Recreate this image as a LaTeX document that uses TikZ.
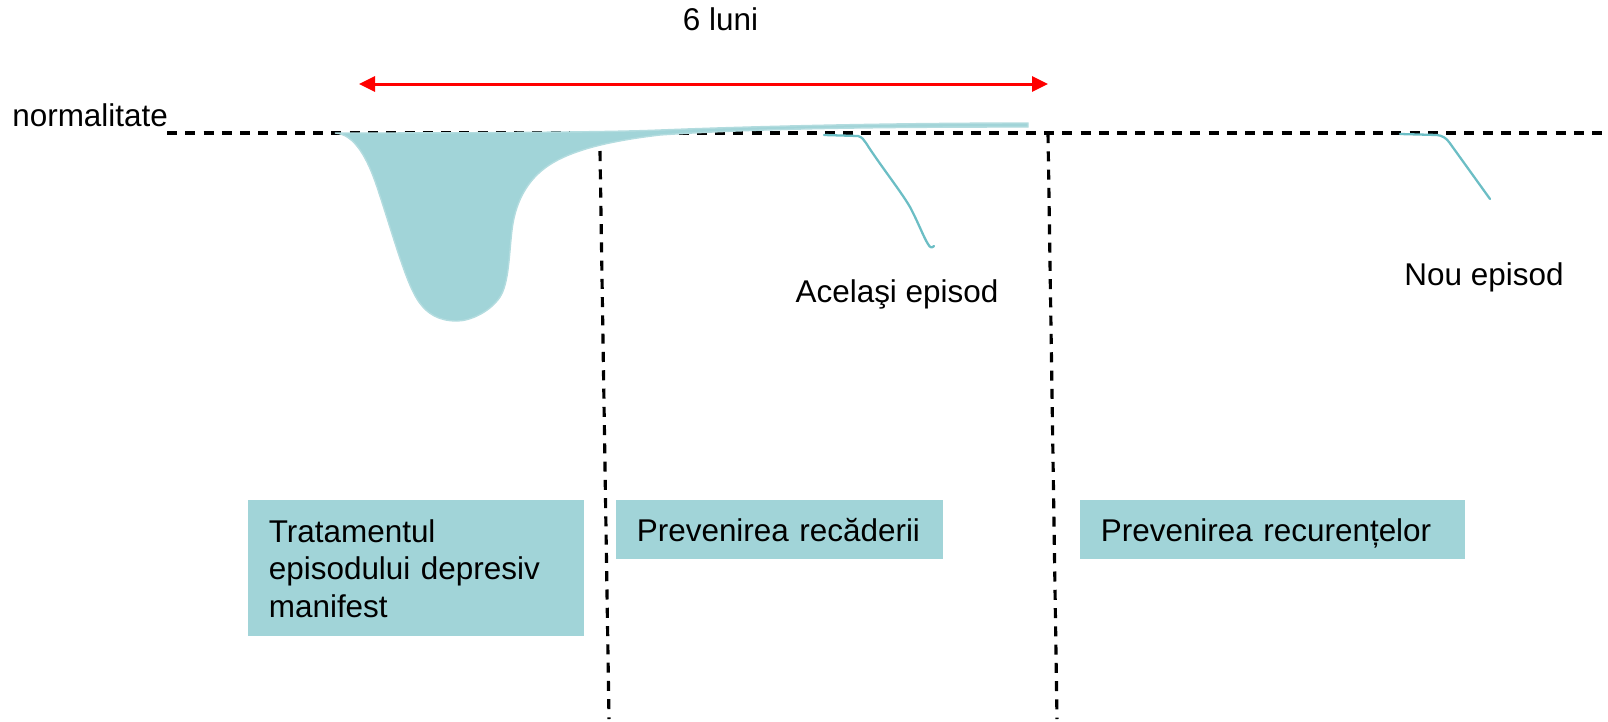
\documentclass[tikz,border=0pt]{standalone}
\usepackage{fontspec}
\setmainfont{Liberation Sans}
\usepackage{xcolor}
\usepackage{tikz}
\usetikzlibrary{arrows.meta}
\definecolor{boxfill}{HTML}{A1D4D8}
\definecolor{boxedge}{HTML}{B3DCDF}
\definecolor{epiline}{HTML}{6CBEC5}
\newcommand{\lblfont}{\fontsize{17.9}{21.3}\selectfont}

\begin{document}
\begin{tikzpicture}[x=0.02cm, y=-0.02cm,
    lbl/.style={inner sep=0pt, font=\lblfont},
    phasebox/.style={anchor=north west, fill=boxfill, inner xsep=0.41cm, inner ysep=0pt, align=left, font=\lblfont},
    guide/.style={black, line width=1.8pt, dash pattern=on 5.7pt off 4.7pt},
    episode/.style={epiline, line width=1.3pt, line cap=round, line join=round}]
  \useasboundingbox (0,0) rectangle (1608,721);

  % normalitate line
  \node[lbl, anchor=base west] (norm) at (12,126) {normalitate};
  \coordinate (normL) at (167,133);
  \coordinate (normR) at (1608,133);
  \draw[guide] (normL) -- (normR);

  % 6 luni
  \node[lbl, anchor=base] (six) at (720.5,30) {6 luni};
  \coordinate (sixL) at (359,84);
  \coordinate (sixR) at (1048,84);
  \draw[red, line width=1.7pt, {Triangle[length=0.32cm, width=0.3cm]}-{Triangle[length=0.32cm, width=0.3cm]}] (sixL) -- (sixR);

  % depressive episode
  \filldraw[fill=boxfill, draw=boxedge, line width=0.8pt]
    (335,133) .. controls (355,134) and (368,160) .. (377,187)
    .. controls (392,232) and (405,280) .. (417,299)
    .. controls (427,315) and (440,321) .. (457,321)
    .. controls (470,321) and (490,312) .. (500,297)
    .. controls (509,283) and (509,255) .. (512,230)
    .. controls (515,205) and (525,183) .. (545,168)
    .. controls (565,153) and (600,142) .. (660,135)
    .. controls (760,128) and (900,127) .. (1028,127)
    -- (1028,123)
    .. controls (900,123) and (760,126) .. (660,130)
    .. controls (600,132.5) and (450,133) .. (335,133) -- cycle;

  % phase borders
  \draw[guide] (600,151) -- (609,719);
  \draw[guide] (1048,133) -- (1057,719);

  % relapse and recurrence
  \draw[episode] (824,135) -- (858,136) .. controls (862,137) and (864,140) .. (866,143)
    .. controls (880,165) and (900,190) .. (910,207)
    .. controls (918,222) and (924,238) .. (928,244)
    .. controls (930,248) and (932,248) .. (934,246);
  \node[lbl, anchor=base] (same) at (897,302) {Acelaşi episod};

  \draw[episode] (1400,134) -- (1437,135) .. controls (1442,135.5) and (1446,138) .. (1449,142) -- (1490,199);
  \node[lbl, anchor=base] (new) at (1484,285) {Nou episod};

  % phases
  \node[phasebox, minimum width=6.72cm, minimum height=2.72cm, text width=5.9cm] (treat) at (248,500)
    {Tratamentul\\episodului depresiv\\manifest};
  \node[phasebox, minimum width=6.54cm, minimum height=1.18cm, text width=5.72cm] (relapse) at (616,500)
    {Prevenirea recăderii};
  \node[phasebox, minimum width=7.7cm, minimum height=1.18cm, text width=6.88cm, text depth=0pt] (recur) at (1080,500)
    {Prevenirea recurențelor};
\end{tikzpicture}
\end{document}
